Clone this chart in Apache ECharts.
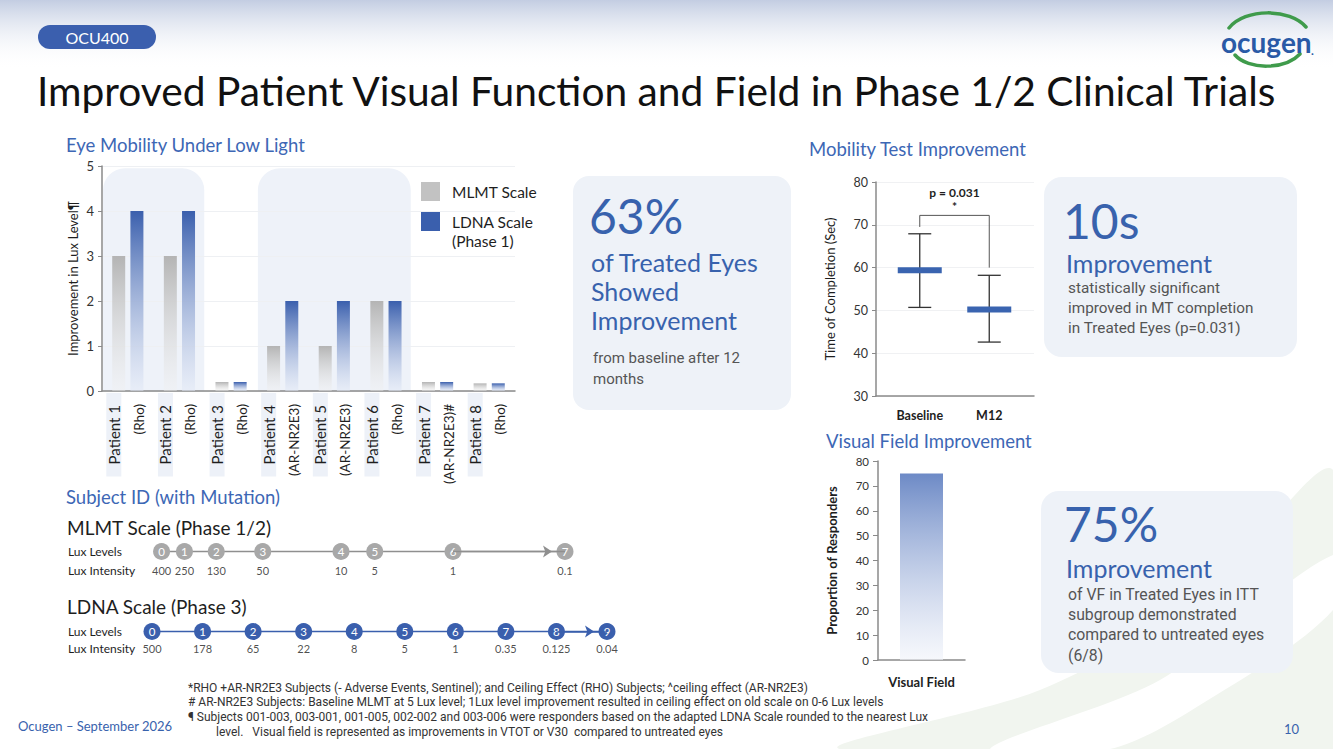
<!DOCTYPE html>
<html>
<head>
<meta charset="utf-8">
<title>OCU400 slide</title>
<script src="https://cdn.jsdelivr.net/npm/echarts@6/dist/echarts.min.js"></script>
<style>
  html, body { margin: 0; padding: 0; background: #fff; }
  #chart { width: 1333px; height: 749px; }
</style>
</head>
<body>
<div id="chart"></div>
<script>
// ---- data ----
const patients = ['Patient 1', 'Patient 2', 'Patient 3', 'Patient 4', 'Patient 5', 'Patient 6', 'Patient 7', 'Patient 8'];
const mutations = ['(Rho)', '(Rho)', '(Rho)', '(AR-NR2E3)', '(AR-NR2E3)', '(Rho)', '(AR-NR2E3)#', '(Rho)'];
const mlmtScore = [3, 3, 0.2, 1, 1, 2, 0.2, 0.17];
const ldnaScore = [4, 4, 0.2, 2, 2, 2, 0.2, 0.17];
const panelGroups = [['Patient 1', 'Patient 2'], ['Patient 4', 'Patient 6']];

const mtCategories = ['Baseline', 'M12'];
const mtMean = [59.4, 50.2];
const mtHigh = [67.9, 58.2];
const mtLow = [50.7, 42.6];
const pText = 'p = 0.031';

const vfCategories = ['Visual Field'];
const vfResponders = [75];

const mlmtLevels = [0, 1, 2, 3, 4, 5, 6, 7];
const mlmtLux = [400, 250, 130, 50, 10, 5, 1, 0.1];
const ldnaLevels = [0, 1, 2, 3, 4, 5, 6, 7, 8, 9];
const ldnaLux = [500, 178, 65, 22, 8, 5, 1, 0.35, 0.125, 0.04];
const scaleRows = ['Lux Intensity', 'Lux Levels'];

const footnotes = [
  '*RHO +AR-NR2E3 Subjects (- Adverse Events, Sentinel); and Ceiling Effect (RHO) Subjects; ^ceiling effect (AR-NR2E3)',
  '# AR-NR2E3 Subjects: Baseline MLMT at 5 Lux level; 1Lux level improvement resulted in ceiling effect on old scale on 0-6 Lux levels',
  '\u00b6 Subjects 001-003, 003-001, 001-005, 002-002 and 003-006 were responders based on the adapted LDNA Scale rounded to the nearest Lux',
  'level.   Visual field is represented as improvements in VTOT or V30  compared to untreated eyes'
];

// ---- styles ----
const HEAD = 'Lato';
const BODY = 'Roboto';
const BLUE = '#3862ad';
const HEADBLUE = '#3d67b5';
const DARK = '#1e1e1e';
const GREY = '#555';
const AXIS = '#8a8a8a';

const chart = echarts.init(document.getElementById('chart'), null, { renderer: 'svg' });

function grad(top, bottom) {
  return new echarts.graphic.LinearGradient(0, 0, 0, 1, [
    { offset: 0, color: top },
    { offset: 1, color: bottom }
  ]);
}

const option = {
  backgroundColor: '#fff',
  animation: false,
  textStyle: { fontFamily: HEAD },
  legend: {
    orient: 'vertical',
    left: 421,
    top: 182,
    padding: 0,
    itemWidth: 19,
    itemHeight: 19,
    itemGap: 11,
    icon: 'rect',
    selectedMode: false,
    textStyle: { fontSize: 15.5, fontFamily: HEAD, color: DARK, padding: [0, 0, 0, 7] },
    data: [
      { name: 'MLMT Scale', itemStyle: { color: '#c2c2c2' } },
      { name: 'LDNA Scale', itemStyle: { color: '#3a5fad' } }
    ]
  },
  grid: [
    { left: 102, top: 166, width: 413, height: 225 },   // eye mobility bars
    { left: 876, top: 182, width: 158, height: 214 },   // mobility test frame
    { left: 885, top: 182, width: 139, height: 214 },   // mobility test data
    { left: 878, top: 461, width: 87, height: 199 },    // visual field
    { left: 117, top: 542, width: 448, height: 38 },    // MLMT scale
    { left: 152, top: 623, width: 455, height: 34 }     // LDNA scale
  ],
  xAxis: [
    {
      gridIndex: 0, type: 'category', data: patients,
      axisLine: { lineStyle: { color: AXIS, width: 1.5 } },
      axisTick: { alignWithLabel: true, length: 6, lineStyle: { color: AXIS } },
      axisLabel: {
        interval: 0, rotate: 90, margin: 2,
        formatter: (v, i) => '{a|' + v + '}\n{b|' + mutations[i] + '}\n{c| }',
        rich: {
          a: { fontSize: 15, fontFamily: HEAD, color: DARK, backgroundColor: '#edf1f8', padding: [0, 12, 0, 12], lineHeight: 30 },
          b: { fontSize: 13.5, fontFamily: HEAD, color: DARK, padding: [0, 11, 0, 0], lineHeight: 20 },
          c: { fontSize: 6, lineHeight: 8 }
        }
      }
    },
    {
      gridIndex: 1, type: 'value', min: 0, max: 1,
      axisLine: { show: true, onZero: false, lineStyle: { color: AXIS, width: 1.5 } },
      axisTick: { show: false }, axisLabel: { show: false }, splitLine: { show: false }
    },
    {
      gridIndex: 2, type: 'category', data: mtCategories,
      axisLine: { show: false },
      axisTick: { alignWithLabel: true, length: 5, lineStyle: { color: AXIS } },
      axisLabel: { margin: 13, fontSize: 12.5, fontWeight: 'bold', color: DARK, fontFamily: HEAD }
    },
    {
      gridIndex: 3, type: 'category', data: vfCategories,
      axisLine: { lineStyle: { color: AXIS, width: 1.5 } },
      axisTick: { show: false },
      axisLabel: { margin: 15, fontSize: 13, fontWeight: 'bold', color: DARK, fontFamily: HEAD }
    },
    { gridIndex: 4, type: 'log', logBase: 10, min: 0.1, max: 1000, inverse: true, show: false },
    { gridIndex: 5, type: 'value', min: 0, max: 9, show: false }
  ],
  yAxis: [
    {
      gridIndex: 0, type: 'value', min: 0, max: 5, interval: 1,
      name: 'Improvement in Lux Level\u00b6', nameLocation: 'middle', nameGap: 23, nameRotate: 90,
      nameTextStyle: { fontSize: 13, color: DARK, fontFamily: HEAD },
      axisLine: { show: true, lineStyle: { color: AXIS, width: 1.5 } },
      axisTick: { show: true, length: 4, lineStyle: { color: AXIS } },
      axisLabel: { fontSize: 13, color: '#333', margin: 8 },
      splitLine: { lineStyle: { color: '#eef0f3' } }
    },
    {
      gridIndex: 1, type: 'value', min: 30, max: 80, interval: 10,
      name: 'Time of Completion (Sec)', nameLocation: 'middle', nameGap: 40, nameRotate: 90,
      nameTextStyle: { fontSize: 13, color: DARK, fontFamily: HEAD },
      axisLine: { show: true, lineStyle: { color: AXIS, width: 1.5 } },
      axisTick: { show: true, length: 4, lineStyle: { color: AXIS } },
      axisLabel: { fontSize: 12.5, color: '#333', margin: 8 },
      splitLine: { lineStyle: { color: '#f0f1f3' } }
    },
    { gridIndex: 2, type: 'value', min: 30, max: 80, show: false },
    {
      gridIndex: 3, type: 'value', min: 0, max: 80, interval: 10,
      name: 'Proportion of Responders', nameLocation: 'middle', nameGap: 40, nameRotate: 90,
      nameTextStyle: { fontSize: 13, color: DARK, fontFamily: HEAD, fontWeight: 'bold' },
      axisLine: { show: true, lineStyle: { color: AXIS, width: 1.5 } },
      axisTick: { show: true, length: 5, lineStyle: { color: AXIS } },
      axisLabel: { fontSize: 11.5, color: '#333', margin: 9 },
      splitLine: { show: false }
    },
    {
      gridIndex: 4, type: 'category', data: scaleRows,
      axisLine: { show: false }, axisTick: { show: false },
      axisLabel: { align: 'left', margin: 49, fontSize: 12, color: DARK, fontFamily: HEAD }
    },
    {
      gridIndex: 5, type: 'category', data: scaleRows,
      axisLine: { show: false }, axisTick: { show: false },
      axisLabel: { align: 'left', margin: 84, fontSize: 12, color: DARK, fontFamily: HEAD }
    }
  ],
  series: [
    {
      name: 'MLMT Scale', type: 'bar', xAxisIndex: 0, yAxisIndex: 0,
      data: mlmtScore, barWidth: 13, barGap: '40%',
      itemStyle: { color: grad('#b4b4b4', 'rgba(240,240,240,0.4)') }
    },
    {
      name: 'LDNA Scale', type: 'bar', xAxisIndex: 0, yAxisIndex: 0,
      data: ldnaScore, barWidth: 13,
      itemStyle: { color: grad('#3a5fad', 'rgba(225,232,246,0.5)') }
    },
    {
      // mean with min/max whiskers
      type: 'custom', xAxisIndex: 2, yAxisIndex: 2, silent: true,
      data: mtCategories.map((c, i) => [i, mtMean[i], mtHigh[i], mtLow[i]]),
      encode: { x: 0, y: [1, 2, 3] },
      renderItem: (params, api) => {
        const m = api.coord([api.value(0), api.value(1)]);
        const hi = api.coord([api.value(0), api.value(2)]);
        const lo = api.coord([api.value(0), api.value(3)]);
        const x = m[0];
        const ln = { stroke: '#333', lineWidth: 1.3 };
        return {
          type: 'group',
          children: [
            { type: 'line', shape: { x1: x, y1: hi[1], x2: x, y2: lo[1] }, style: ln },
            { type: 'line', shape: { x1: x - 11.5, y1: hi[1], x2: x + 11.5, y2: hi[1] }, style: ln },
            { type: 'line', shape: { x1: x - 11.5, y1: lo[1], x2: x + 11.5, y2: lo[1] }, style: ln },
            { type: 'rect', shape: { x: x - 22, y: m[1] - 3, width: 44, height: 6 }, style: { fill: '#3a64b0' } }
          ]
        };
      }
    },
    {
      // significance bracket
      type: 'custom', xAxisIndex: 2, yAxisIndex: 2, silent: true,
      data: [[0, 1, 72.2, 69.5, 60]],
      renderItem: (params, api) => {
        const a = api.coord([api.value(0), api.value(3)]);
        const b = api.coord([api.value(0), api.value(2)]);
        const c = api.coord([api.value(1), api.value(2)]);
        const d = api.coord([api.value(1), api.value(4)]);
        const mid = (b[0] + c[0]) / 2;
        return {
          type: 'group',
          children: [
            { type: 'polyline', shape: { points: [a, b, c, d] }, style: { stroke: '#555', lineWidth: 1, fill: null } },
            { type: 'text', x: mid, y: b[1] - 23, style: { text: pText, fill: DARK, font: 'bold 12px ' + HEAD, textAlign: 'center', textVerticalAlign: 'middle' } },
            { type: 'text', x: mid, y: b[1] - 9, style: { text: '*', fill: DARK, font: 'bold 12px ' + HEAD, textAlign: 'center', textVerticalAlign: 'middle' } }
          ]
        };
      }
    },
    {
      type: 'bar', xAxisIndex: 3, yAxisIndex: 3, data: vfResponders, barWidth: 43,
      itemStyle: { color: grad('#6d8ac6', 'rgba(240,243,250,0.6)') }
    },
    {
      type: 'line', xAxisIndex: 4, yAxisIndex: 4, silent: true,
      data: mlmtLux.map((v, i) => [v, 1, mlmtLevels[i]]),
      symbol: 'circle', symbolSize: 17,
      itemStyle: { color: '#a8a8a8' },
      lineStyle: { color: '#8f8f8f', width: 1.3 },
      label: { show: true, position: 'inside', formatter: p => p.value[2], color: '#fff', fontSize: 11.5, fontFamily: HEAD },
      markLine: {
        silent: true, symbol: ['none', 'arrow'], symbolSize: 9, symbolOffset: [0, [0, 13]],
        label: { show: false }, lineStyle: { color: '#8f8f8f', width: 1.3, type: 'solid' },
        data: [[{ coord: [mlmtLux[6], 1] }, { coord: [mlmtLux[7], 1] }]]
      }
    },
    {
      type: 'scatter', xAxisIndex: 4, yAxisIndex: 4, silent: true,
      data: mlmtLux.map(v => [v, 0]), symbolSize: 1, itemStyle: { color: 'transparent' },
      label: { show: true, position: 'inside', formatter: p => String(p.value[0]), color: DARK, fontSize: 11, fontFamily: HEAD }
    },
    {
      type: 'line', xAxisIndex: 5, yAxisIndex: 5, silent: true,
      data: ldnaLevels.map(v => [v, 1]),
      symbol: 'circle', symbolSize: 17,
      itemStyle: { color: '#3a5fad' },
      lineStyle: { color: '#3a5fad', width: 1.5 },
      label: { show: true, position: 'inside', formatter: p => p.value[0], color: '#fff', fontSize: 11.5, fontFamily: HEAD },
      markLine: {
        silent: true, symbol: ['none', 'arrow'], symbolSize: 9, symbolOffset: [0, [0, 13]],
        label: { show: false }, lineStyle: { color: '#3a5fad', width: 1.5, type: 'solid' },
        data: [[{ coord: [ldnaLevels[8], 1] }, { coord: [ldnaLevels[9], 1] }]]
      }
    },
    {
      type: 'scatter', xAxisIndex: 5, yAxisIndex: 5, silent: true,
      data: ldnaLevels.map((v, i) => [v, 0, ldnaLux[i]]), symbolSize: 1, itemStyle: { color: 'transparent' },
      label: { show: true, position: 'inside', formatter: p => String(p.value[2]), color: DARK, fontSize: 11, fontFamily: HEAD }
    }
  ]
};

chart.setOption(option);

// ---- slide decoration and text ----
function T(x, y, text, size, color, family, weight, align) {
  return {
    type: 'text', x: x, y: y, silent: true,
    style: {
      text: text, fill: color,
      font: (weight || 'normal') + ' ' + size + 'px ' + (family || HEAD),
      textAlign: align || 'left', textVerticalAlign: 'middle'
    }
  };
}
function box(x, y, w, h, r, fill) {
  return { type: 'rect', silent: true, shape: { x: x, y: y, width: w, height: h, r: r }, style: { fill: fill } };
}

const g = [];
// top wash and background swoosh
g.push({ type: 'rect', silent: true, shape: { x: 0, y: 0, width: 1333, height: 70 }, style: { fill: grad('#c3cde2', 'rgba(255,255,255,0)') } });
g.push({ type: 'polygon', silent: true, shape: { smooth: 0.3, points: [[840, 749], [1040, 690], [1200, 600], [1333, 470], [1333, 749]] }, style: { fill: '#f1f5ef' } });
g.push({ type: 'polygon', silent: true, shape: { smooth: 0.3, points: [[990, 749], [1160, 680], [1333, 555], [1333, 610], [1200, 705], [1110, 749]] }, style: { fill: '#ffffff' } });

// panels behind patient groups (from the category scale)
const band = 413 / patients.length;
panelGroups.forEach(([a, b]) => {
  const x0 = chart.convertToPixel({ xAxisIndex: 0 }, a) - band / 2;
  const x1 = chart.convertToPixel({ xAxisIndex: 0 }, b) + band / 2;
  const yTop = chart.convertToPixel({ yAxisIndex: 0 }, 4.95);
  const yBot = chart.convertToPixel({ yAxisIndex: 0 }, 0);
  g.push({ type: 'rect', silent: true, z: -1, shape: { x: x0 + 1, y: yTop, width: x1 - x0 - 2, height: yBot - yTop, r: [22, 22, 0, 0] }, style: { fill: '#eef2f9' } });
});

// badge + logo
g.push(box(38, 25, 118, 24, 12, '#3b5fae'));
g.push(T(97, 37.5, 'OCU400', 16, '#fff', HEAD, 'normal', 'center'));
g.push({ type: 'bezierCurve', silent: true, shape: { x1: 1229, y1: 28, cpx1: 1245, cpy1: 8, cpx2: 1290, cpy2: 8, x2: 1306, y2: 27 }, style: { stroke: '#3f9b4b', lineWidth: 3.5, fill: null, lineCap: 'round' } });
g.push({ type: 'bezierCurve', silent: true, shape: { x1: 1235, y1: 55, cpx1: 1248, cpy1: 70, cpx2: 1285, cpy2: 70, x2: 1300, y2: 54 }, style: { stroke: '#3f9b4b', lineWidth: 3.5, fill: null, lineCap: 'round' } });
g.push(T(1221, 42, 'ocugen', 28, '#2a5aa6', HEAD, 'bold'));
g.push(T(1311, 50, '.', 12, '#2a5aa6', HEAD, 'bold'));

// title + headings
g.push(T(37, 90, 'Improved Patient Visual Function and Field in Phase 1/2 Clinical Trials', 40.7, '#111', HEAD));
g.push(T(66, 145, 'Eye Mobility Under Low Light', 18.5, HEADBLUE, HEAD));
g.push(T(809, 149, 'Mobility Test Improvement', 18.5, HEADBLUE, HEAD));
g.push(T(826, 441, 'Visual Field Improvement', 18.5, HEADBLUE, HEAD));
g.push(T(66, 497, 'Subject ID (with Mutation)', 18.5, HEADBLUE, HEAD));
g.push(T(67, 527, 'MLMT Scale (Phase 1/2)', 19, DARK, HEAD));
g.push(T(67, 606, 'LDNA Scale (Phase 3)', 19, DARK, HEAD));
g.push(T(452, 241, '(Phase 1)', 15.5, DARK, HEAD));

// callout boxes
g.push(box(573, 176, 218, 234, 16, '#eef2f8'));
g.push(T(589, 215, '63%', 48, BLUE, HEAD));
g.push(T(591, 262, 'of Treated Eyes', 25, BLUE, HEAD));
g.push(T(591, 291, 'Showed', 25, BLUE, HEAD));
g.push(T(591, 320, 'Improvement', 25, BLUE, HEAD));
g.push(T(593, 358, 'from baseline after 12', 15, GREY, BODY));
g.push(T(593, 379, 'months', 15, GREY, BODY));

g.push(box(1044, 177, 253, 180, 18, '#eef2f8'));
g.push(T(1063, 220, '10s', 48, BLUE, HEAD));
g.push(T(1066, 263, 'Improvement', 25, BLUE, HEAD));
g.push(T(1068, 288, 'statistically significant', 15.3, GREY, BODY));
g.push(T(1068, 308, 'improved in MT completion', 15.3, GREY, BODY));
g.push(T(1068, 328, 'in Treated Eyes (p=0.031)', 15.3, GREY, BODY));

g.push(box(1041, 491, 252, 182, 18, '#eef2f8'));
g.push(T(1064, 523, '75%', 48, BLUE, HEAD));
g.push(T(1066, 568, 'Improvement', 25, BLUE, HEAD));
g.push(T(1068, 594, 'of VF in Treated Eyes in ITT', 15.8, GREY, BODY));
g.push(T(1068, 614, 'subgroup demonstrated', 15.8, GREY, BODY));
g.push(T(1068, 634, 'compared to untreated eyes', 15.8, GREY, BODY));
g.push(T(1068, 655, '(6/8)', 15.8, GREY, BODY));

// footnotes + footer
g.push(T(188, 688, footnotes[0], 12, '#333', BODY));
g.push(T(188, 702, footnotes[1], 12, '#333', BODY));
g.push(T(188, 717, footnotes[2], 12, '#333', BODY));
g.push(T(216, 732, footnotes[3], 12, '#333', BODY));
g.push(T(18, 726, 'Ocugen \u2013 September 2026', 13, BLUE, HEAD));
g.push(T(1284, 729, '10', 13, BLUE, HEAD));

chart.setOption({ graphic: { elements: g } });
</script>
</body>
</html>
